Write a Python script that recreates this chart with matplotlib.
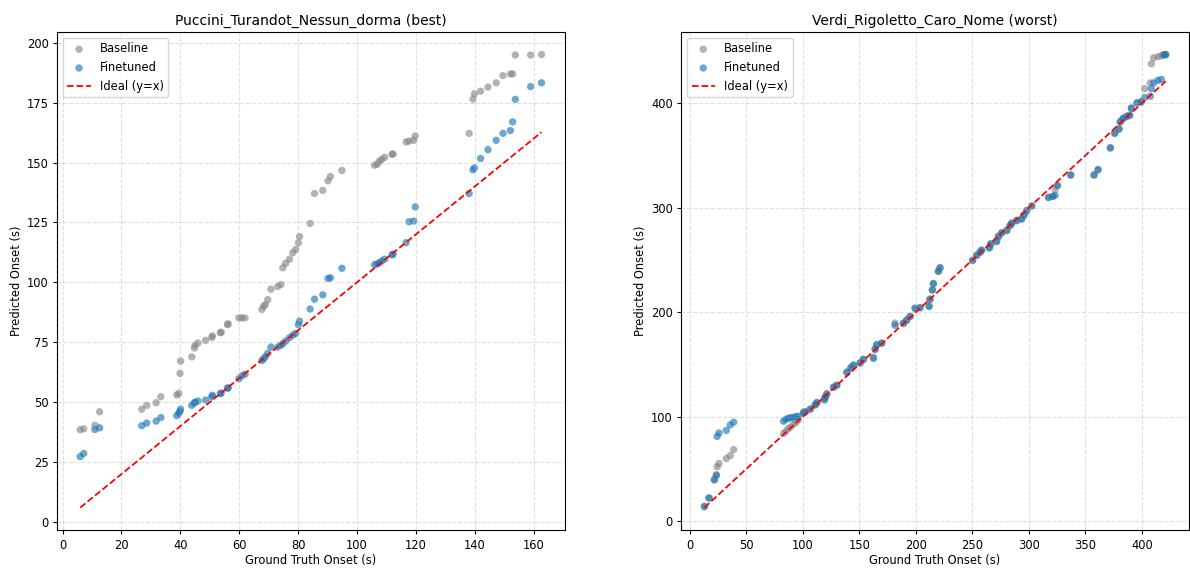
import matplotlib
matplotlib.use("Agg")
import matplotlib.pyplot as plt

# Puccini_Turandot_Nessun_dorma (best)
best_gt = [6.0, 7.2, 11.0, 12.6, 26.9, 28.6, 31.8, 33.4, 38.8, 39.5, 39.9, 40.1,
           43.9, 44.8, 45.0, 46.0, 48.6, 50.7, 50.9, 53.6, 53.9, 56.0, 56.3, 59.9,
           60.9, 62.0, 67.7, 68.3, 68.9, 69.7, 70.8, 73.1, 74.2, 74.8, 75.8, 77.1,
           78.2, 79.2, 80.1, 80.5, 84.1, 85.6, 88.4, 90.2, 91.0, 94.9, 106.0, 106.9,
           107.6, 108.4, 109.4, 111.9, 112.3, 116.7, 117.7, 119.3, 119.8, 138.1, 139.4,
           139.9, 142.0, 144.5, 147.3, 149.6, 152.1, 152.9, 153.8, 159.0, 162.7]
best_base = [38.5, 38.9, 40.4, 46.0, 47.1, 48.7, 49.8, 52.3, 53.0, 53.7, 62.0, 67.2,
             68.9, 72.6, 73.8, 74.7, 75.8, 77.0, 77.7, 79.0, 79.2, 82.4, 82.7, 85.2,
             85.2, 85.2, 88.7, 90.1, 90.7, 92.8, 97.2, 98.3, 99.1, 106.1, 108.0, 109.7,
             112.4, 113.7, 116.5, 119.1, 124.6, 137.1, 138.4, 142.4, 144.2, 146.7, 148.9, 149.3,
             150.5, 151.4, 152.2, 153.5, 153.6, 158.6, 159.0, 159.3, 161.1, 162.2, 176.5,
             178.7, 179.8, 181.5, 183.3, 186.3, 187.0, 187.0, 194.9, 194.9, 195.1]
best_fine = [27.3, 28.6, 38.6, 39.3, 40.2, 41.3, 42.1, 43.6, 44.4, 45.4, 46.2, 47.1,
             48.7, 49.7, 50.0, 50.5, 50.9, 52.3, 52.9, 53.6, 53.8, 55.8, 56.0, 59.8,
             61.0, 61.7, 67.4, 68.1, 69.0, 70.4, 73.0, 73.0, 73.8, 74.4, 75.5, 76.9,
             78.0, 78.7, 82.4, 83.8, 88.9, 93.0, 94.8, 101.7, 101.9, 105.9, 107.4, 107.7,
             108.2, 108.9, 109.7, 111.5, 111.8, 116.6, 125.3, 125.6, 131.5, 137.1, 147.0,
             147.8, 151.7, 155.4, 159.3, 162.2, 163.4, 167.0, 176.4, 181.7, 183.3]

# Verdi_Rigoletto_Caro_Nome (worst)
worst_gt = [13.0, 17.1, 21.8, 23.6, 24.3, 25.9, 32.4, 35.9, 38.9, 83.0, 85.0, 87.0,
            89.0, 91.5, 94.0, 96.0, 100.7, 102.1, 106.6, 110.9, 112.5, 119.2, 119.8, 121.3,
            127.2, 130.1, 139.0, 142.5, 144.8, 150.7, 153.6, 162.5, 164.0, 165.4, 169.8, 181.6,
            189.0, 191.9, 194.9, 199.3, 203.7, 211.7, 212.5, 214.6, 215.5, 219.9, 221.4, 250.2,
            253.8, 256.8, 258.2, 265.0, 266.2, 271.5, 273.0, 275.9, 280.4, 283.3, 284.8, 289.2,
            293.6, 295.7, 298.1, 302.5, 317.3, 321.1, 323.2, 325.2, 337.0, 357.6, 361.1, 372.0,
            375.9, 379.7, 380.8, 383.2, 386.2, 389.1, 390.6, 395.6, 399.4, 402.4, 407.3, 408.3,
            410.3, 414.1, 417.1, 419.5, 421.0]
worst_base = [14.5, 22.0, 40.0, 44.5, 52.1, 55.3, 60.0, 62.8, 68.5, 84.0, 86.0, 88.5,
              90.0, 92.5, 94.5, 97.0, 103.5, 105.0, 107.0, 111.0, 113.0, 117.0, 119.0, 122.0,
              128.5, 130.0, 142.0, 146.5, 149.0, 151.0, 155.0, 157.0, 165.0, 168.5, 170.0, 189.6,
              189.0, 192.0, 196.0, 203.5, 204.0, 206.0, 212.0, 221.5, 227.0, 239.0, 242.0, 249.5,
              254.5, 257.0, 259.5, 262.0, 265.0, 268.0, 272.0, 276.0, 278.5, 283.0, 285.0, 288.0,
              289.5, 293.0, 297.5, 301.5, 310.0, 311.0, 317.5, 321.0, 331.5, 331.0, 336.0, 357.5,
              371.0, 375.5, 382.0, 385.0, 387.5, 388.0, 395.5, 400.0, 401.5, 413.9, 419.3, 437.6,
              443.3, 444.5, 445.2, 446.0, 446.5]
worst_fine = [13.9, 22.4, 39.5, 43.9, 81.2, 84.4, 86.9, 92.2, 94.8, 95.7, 97.5, 98.5,
              99.0, 99.5, 100.0, 100.5, 104.3, 104.3, 107.4, 111.5, 113.7, 115.9, 118.5, 121.6,
              128.0, 130.2, 142.8, 146.9, 149.5, 151.7, 154.8, 155.7, 164.3, 169.0, 170.6, 187.5,
              189.6, 192.7, 195.9, 203.8, 204.4, 205.4, 212.6, 221.1, 227.5, 239.2, 242.7, 249.6,
              254.3, 257.5, 259.1, 261.3, 265.4, 267.6, 272.7, 275.8, 278.0, 282.8, 285.3, 287.5,
              289.1, 292.9, 297.0, 301.7, 309.7, 310.6, 311.8, 321.3, 331.1, 331.4, 336.5, 357.0,
              371.3, 375.1, 382.3, 385.5, 387.0, 388.6, 395.0, 400.3, 401.2, 405.4, 406.6, 413.9,
              419.3, 421.8, 422.7, 446.4, 446.4]

songs = [
    ("Puccini_Turandot_Nessun_dorma (best)", best_gt, best_base, best_fine),
    ("Verdi_Rigoletto_Caro_Nome (worst)", worst_gt, worst_base, worst_fine),
]

fig, axes = plt.subplots(1, 2, figsize=(11.9, 5.69), dpi=100)
fig.subplots_adjust(left=0.048, right=0.999, bottom=0.068, top=0.944, wspace=0.23)

for ax, (title, gt, base, fine) in zip(axes, songs):
    ax.scatter(gt, base, color="gray", alpha=0.6, s=28, label="Baseline", edgecolors="none")
    ax.scatter(gt, fine, color="tab:blue", alpha=0.65, s=28, label="Finetuned", edgecolors="none")
    lo, hi = min(gt), max(gt)
    ax.plot([lo, hi], [lo, hi], "r--", linewidth=1.3, label="Ideal (y=x)")
    ax.set_xlabel("Ground Truth Onset (s)", fontsize=8.3, labelpad=2)
    ax.set_ylabel("Predicted Onset (s)", fontsize=8.3, labelpad=3)
    ax.set_title(title, fontsize=10, pad=5)
    ax.tick_params(labelsize=8.3, length=3, pad=3)
    ax.grid(True, linestyle="--", alpha=0.4)
    ax.legend(loc="upper left", fontsize=8.3)

plt.savefig("out.png")
